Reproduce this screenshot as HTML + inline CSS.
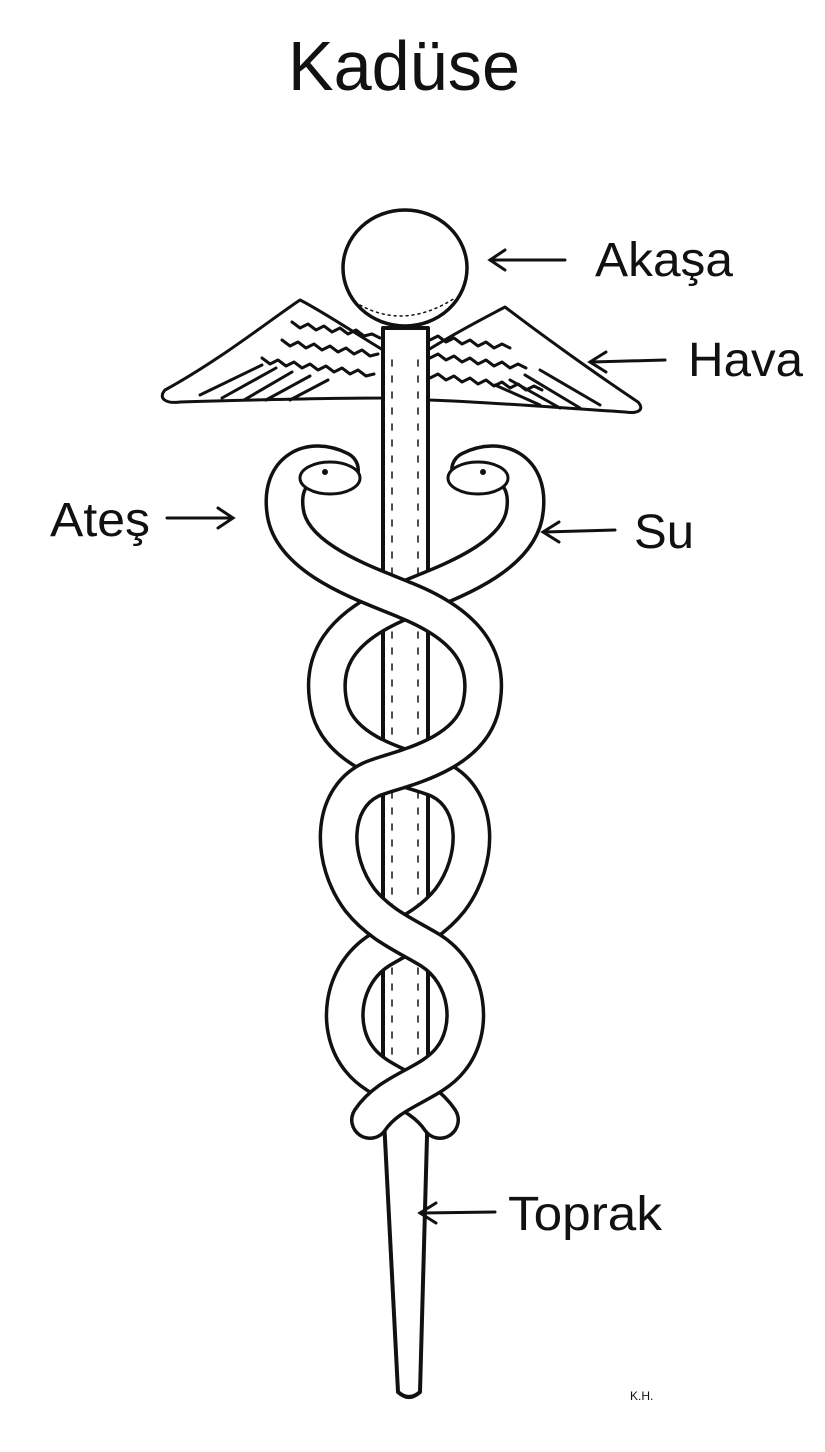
<!DOCTYPE html>
<html><head><meta charset="utf-8"><style>
html,body{margin:0;padding:0;background:#fff;}
svg{display:block}
text{font-family:"Liberation Sans",sans-serif;fill:#111}
</style></head><body>
<svg width="825" height="1452" viewBox="0 0 825 1452" xmlns="http://www.w3.org/2000/svg">
<rect width="825" height="1452" fill="#fff"/>
<text x="404" y="90" font-size="70" text-anchor="middle" textLength="232" lengthAdjust="spacingAndGlyphs">Kadüse</text>

<g fill="none" stroke="#111" stroke-width="3" stroke-linecap="round" stroke-linejoin="round">
<path d="M383,350 C350,330 320,310 300,300 C270,320 220,360 165,390 C158,398 165,404 180,402 C250,400 320,398 383,398 Z" fill="#fff"/>
<path d="M292,322 l8,6 l8,-4 l8,6 l8,-4 l8,6 l8,-4 l8,6 l8,-4 l8,6 l8,-2 l8,4" />
<path d="M282,340 l8,6 l8,-4 l8,6 l8,-4 l8,6 l8,-4 l8,6 l8,-4 l8,6 l8,-4 l8,6 l8,-2"/>
<path d="M262,358 l8,6 l8,-4 l8,6 l8,-4 l8,6 l8,-4 l8,6 l8,-4 l8,6 l8,-4 l8,6 l8,-4 l8,6 l8,-2"/>
<path d="M200,395 L262,365 M222,398 L276,368 M244,400 L292,372 M266,400 L310,376 M290,400 L328,380"/>
<path d="M428,350 C460,330 490,315 505,307 C535,330 590,370 638,402 C645,410 638,414 625,412 C560,408 490,402 428,400 Z" fill="#fff"/>
<path d="M430,340 l8,-4 l8,6 l8,-4 l8,6 l8,-4 l8,6 l8,-4 l8,6 l8,-4 l8,4"/>
<path d="M430,358 l8,-4 l8,6 l8,-4 l8,6 l8,-4 l8,6 l8,-4 l8,6 l8,-4 l8,6 l8,-4 l8,4"/>
<path d="M430,378 l8,-4 l8,6 l8,-4 l8,6 l8,-4 l8,6 l8,-4 l8,6 l8,-4 l8,6 l8,-4 l8,6 l8,-4 l8,4"/>
<path d="M540,370 L600,405 M525,375 L580,408 M510,380 L560,408 M495,385 L540,405"/>
<path d="M383,328 L383,1100 L398,1392 Q409,1402 420,1392 L428,1100 L428,328 Z" fill="#fff" stroke-width="4"/>
<path d="M392,360 L392,1080 M418,360 L418,1080" stroke-width="1.5" stroke-dasharray="6 10"/>
<ellipse cx="405" cy="268" rx="62" ry="58" fill="#fff" stroke-width="3.5"/>
<path d="M360,305 Q405,330 455,298" stroke-width="1.5" stroke-dasharray="2 4"/>
</g>

<g fill="none" stroke-linecap="round" stroke-linejoin="round">
<path d="M470,470 C500,455 530,470 525,510 C520,560 440,585 405,600 C330,630 320,670 330,710 C345,760 420,770 440,780 C480,800 480,860 450,900 C430,925 405,935 380,950 C340,975 335,1030 360,1060 C380,1085 420,1090 440,1120" stroke="#111" stroke-width="40"/>
<path d="M470,470 C500,455 530,470 525,510 C520,560 440,585 405,600 C330,630 320,670 330,710 C345,760 420,770 440,780 C480,800 480,860 450,900 C430,925 405,935 380,950 C340,975 335,1030 360,1060 C380,1085 420,1090 440,1120" stroke="#fff" stroke-width="33"/>
<path d="M340,470 C310,455 280,470 285,510 C290,560 370,585 405,600 C480,630 490,670 480,710 C465,760 390,770 370,780 C330,800 330,860 360,900 C380,925 405,935 430,950 C470,975 475,1030 450,1060 C430,1085 390,1090 370,1120" stroke="#111" stroke-width="40"/>
<path d="M340,470 C310,455 280,470 285,510 C290,560 370,585 405,600 C480,630 490,670 480,710 C465,760 390,770 370,780 C330,800 330,860 360,900 C380,925 405,935 430,950 C470,975 475,1030 450,1060 C430,1085 390,1090 370,1120" stroke="#fff" stroke-width="33"/>
</g>
<g fill="#fff" stroke="#111" stroke-width="3">
<ellipse cx="330" cy="478" rx="30" ry="16"/>
<ellipse cx="478" cy="478" rx="30" ry="16"/>
</g>
<circle cx="325" cy="472" r="3" fill="#111"/>
<circle cx="483" cy="472" r="3" fill="#111"/>

<g stroke="#111" stroke-width="3" fill="none" stroke-linecap="round">
<path d="M565,260 L492,260 M505,250 L490,260 L505,270"/>
<path d="M665,360 L592,362 M606,352 L590,362 L606,372"/>
<path d="M167,518 L232,518 M218,508 L233,518 L218,528"/>
<path d="M615,530 L545,532 M559,522 L543,532 L559,542"/>
<path d="M495,1212 L422,1213 M436,1203 L420,1213 L436,1223"/>
</g>

<text x="595" y="276" font-size="48" textLength="138" lengthAdjust="spacingAndGlyphs">Akaşa</text>
<text x="688" y="376" font-size="48" textLength="115" lengthAdjust="spacingAndGlyphs">Hava</text>
<text x="50" y="536" font-size="48" textLength="100" lengthAdjust="spacingAndGlyphs">Ateş</text>
<text x="634" y="548" font-size="48" textLength="60" lengthAdjust="spacingAndGlyphs">Su</text>
<text x="508" y="1230" font-size="48" textLength="154" lengthAdjust="spacingAndGlyphs">Toprak</text>
<text x="630" y="1400" font-size="12">K.H.</text>
</svg>
</body></html>
